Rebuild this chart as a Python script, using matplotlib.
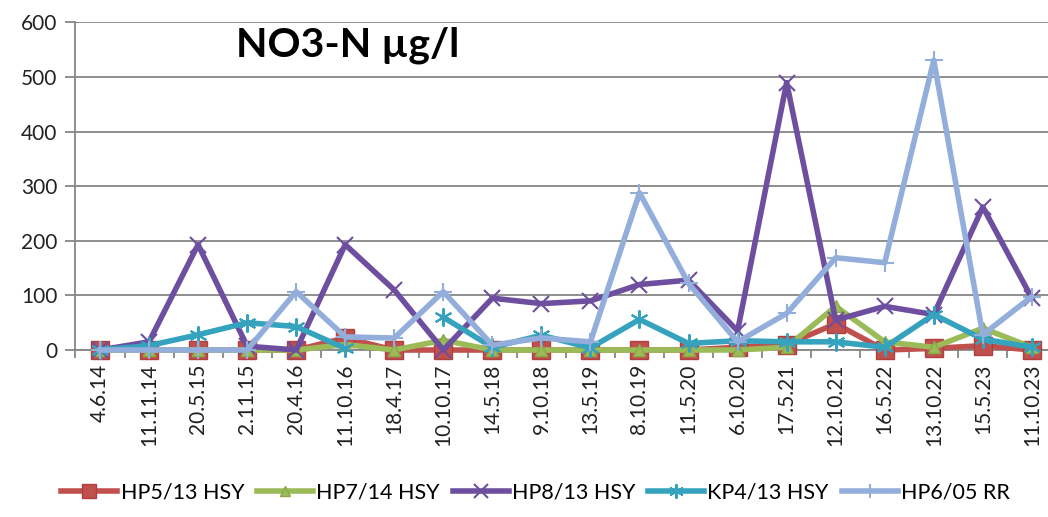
import numpy as np
import matplotlib
matplotlib.use('Agg')
import matplotlib.pyplot as plt
from matplotlib import font_manager

dates = ['4.6.14', '11.11.14', '20.5.15', '2.11.15', '20.4.16', '11.10.16', '18.4.17',
         '10.10.17', '14.5.18', '9.10.18', '13.5.19', '8.10.19', '11.5.20', '6.10.20',
         '17.5.21', '12.10.21', '16.5.22', '13.10.22', '15.5.23', '11.10.23']

hp5_13 = [0, 0, 0, 0, 0, 22, 0, 0, 0, 0, 0, 0, 0, 5, 10, 48, 0, 3, 8, 0]
hp7_14 = [0, 0, 0, 0, 0, 10, 0, 18, 0, 0, 0, 0, 0, 0, 5, 80, 15, 5, 40, 5]
hp8_13 = [0, 15, 193, 7, 0, 193, 110, 0, 95, 85, 90, 120, 128, 35, 490, 55, 80, 65, 262, 95]
kp4_13 = [0, 8, 28, 50, 43, 3, np.nan, 60, 5, 27, 4, 56, 12, 17, 15, 15, 5, 65, 20, 5]
hp6_05 = [0, 0, 0, 0, 107, 24, 22, 107, 9, 22, 15, 288, 122, 15, 67, 169, 160, 531, 28, 98]

names = ['HP5/13 HSY', 'HP7/14 HSY', 'HP8/13 HSY', 'KP4/13 HSY', 'HP6/05 RR']

installed = {f.name for f in font_manager.fontManager.ttflist}
narrow = 'Liberation Sans Narrow' if 'Liberation Sans Narrow' in installed else 'Lato'
plt.rcParams['font.family'] = ['Lato', 'DejaVu Sans']

fig = plt.figure(figsize=(10.48, 5.17), dpi=100)
ax = fig.add_axes([0.072, 0.323, 0.936, 0.6335])

x = np.arange(len(dates))
lw = 4
ax.plot(x, hp5_13, color='#C0504D', lw=lw, marker='s', ms=13, mec='#B0403D', label=names[0], zorder=3, clip_on=False)
ax.plot(x, hp7_14, color='#9BBB59', lw=lw, marker='^', ms=9, mec='#8AAA48', label=names[1], zorder=3, clip_on=False)
ax.plot(x, hp8_13, color='#6E4E9E', lw=lw, marker='x', ms=12, mew=1.5, label=names[2], zorder=3, clip_on=False)
ax.plot(x, kp4_13, color='#35A3BE', lw=lw, marker=(6, 2, 0), ms=13, mew=1.5, label=names[3], zorder=3, clip_on=False)
ax.plot(x, hp6_05, color='#94AEDC', lw=lw, marker='+', ms=13, mew=1.5, label=names[4], zorder=3, clip_on=False)

ax.set_xlim(-0.5, 19.5)
ax.set_ylim(0, 600)
ax.set_yticks(range(0, 601, 100))
ax.yaxis.grid(True, color='#868686', lw=1.3)
ax.set_axisbelow(True)

ax.set_xticks(x)
ax.set_xticklabels(dates, rotation=90, fontsize=15, color='#222222')
ax.set_xticks(np.arange(-0.5, 19.6, 1), minor=True)
ax.tick_params(axis='x', which='major', length=0, pad=10)
ax.tick_params(axis='x', which='minor', length=6, width=1.3, color='#868686', direction='out')
ax.tick_params(axis='y', length=7, width=1.3, color='#868686', labelsize=15, labelcolor='#222222', pad=6)

for side in ['top', 'right']:
    ax.spines[side].set_visible(False)
for side in ['left', 'bottom']:
    ax.spines[side].set_color('#868686')
    ax.spines[side].set_linewidth(1.3)

ax.text(0.164, 0.93, 'NO3-N µg/l', transform=ax.transAxes, fontsize=29.5,
        fontweight='bold', ha='left', va='center', color='black')

fig.legend(loc='center', bbox_to_anchor=(0.511, 0.048), ncol=5, frameon=False,
           prop={'family': narrow, 'size': 15.5}, handlelength=2.6,
           handletextpad=0.15, columnspacing=0.6, markerscale=0.8)

fig.savefig('out.png', dpi=100)
